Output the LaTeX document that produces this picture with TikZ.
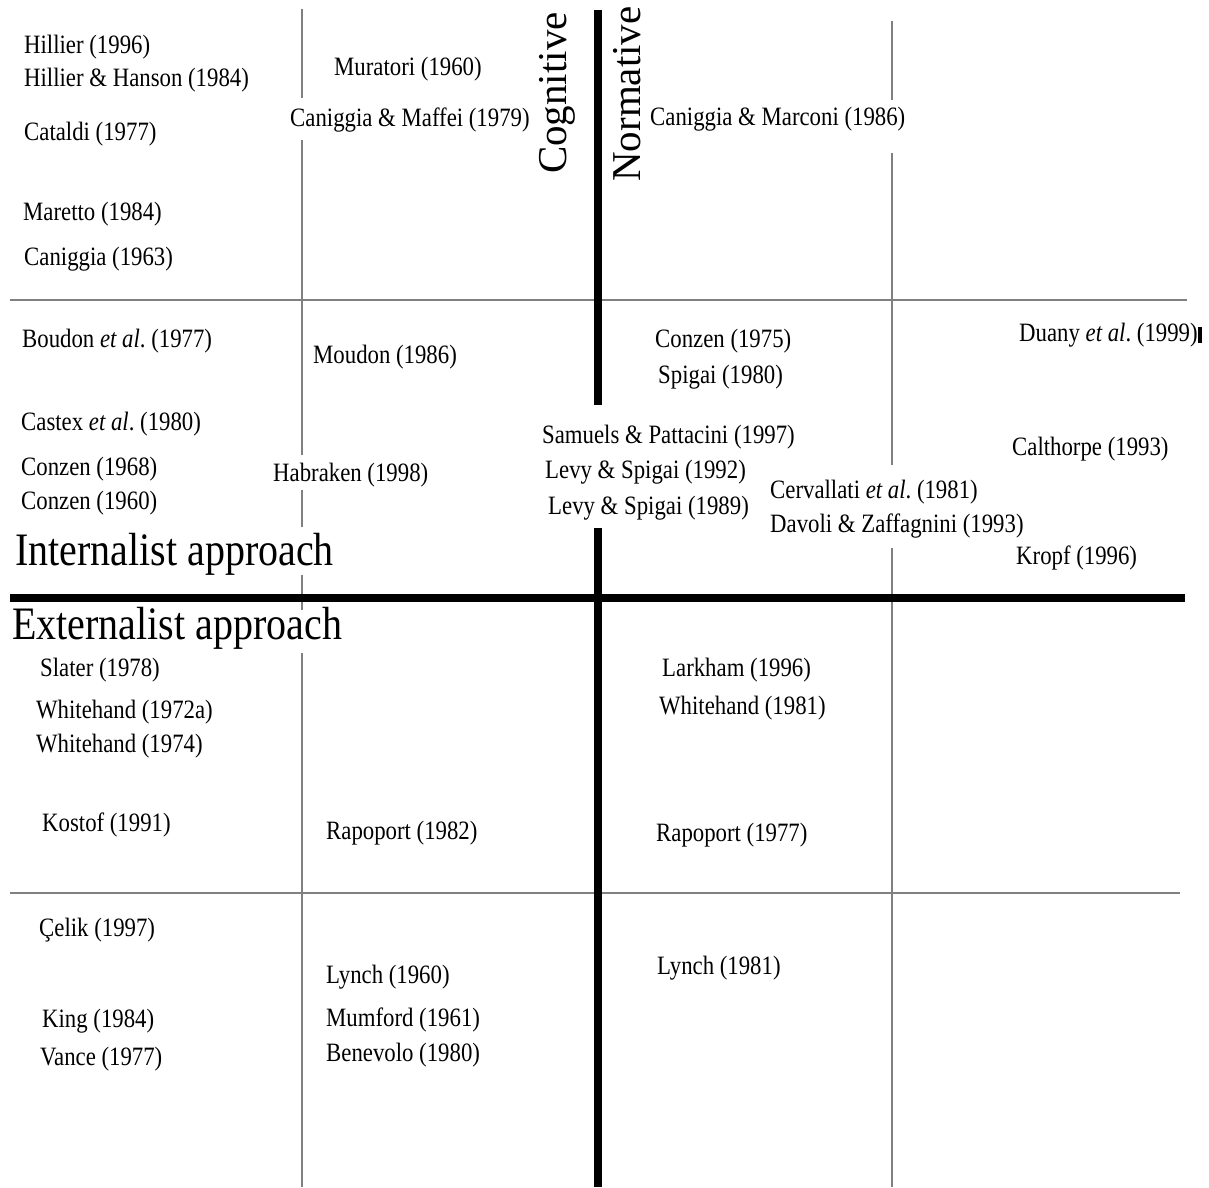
\documentclass[tikz,border=0pt]{standalone}
\usepackage{fontspec}
\setmainfont[FakeStretch=0.86]{Liberation Serif}
\newfontfamily\axisfont{Liberation Serif}
\usetikzlibrary{positioning}
\tikzset{
ref/.style={
  anchor=west,
  inner sep=0pt,
  yshift=-2pt,
  font=\fontsize{26.5}{30}\selectfont
  },
approach/.style={
  anchor=west,
  inner sep=0pt,
  font=\fontsize{46.5}{50}\selectfont
  },
axislabel/.style={
  rotate=90,
  inner sep=0pt,
  font=\axisfont\fontsize{41}{45}\selectfont
  },
thickline/.style={line width=7.5pt,black},
thinline/.style={line width=1.3pt,black!50}
}

\begin{document}
\begin{tikzpicture}[x=1pt,y=-1pt]
\useasboundingbox (0,0) rectangle (1209,1187);
% thin dividers
\draw[thinline] (302,9) -- (302,98) (302,140) -- (302,455) (302,490) -- (302,527)
  (302,575) -- (302,610) (302,653) -- (302,1187);
\draw[thinline] (892,21) -- (892,100) (892,153) -- (892,465) (892,548) -- (892,1187);
\draw[thinline] (10,300) -- (1187,300);
\draw[thinline] (10,893) -- (1180,893);
% main axes
\draw[thickline] (10,598) -- (1185,598);
\draw[thickline] (598,10) -- (598,405) (598,528) -- (598,1187);
\node[axislabel] (cog) at (557,93) {Cognitive};
\node[axislabel] (norm) at (627,94) {Normative};
\node[approach] (int) at (15,554) {Internalist approach};
\node[approach] (ext) at (12,628) {Externalist approach};
% internalist, cognitive
\node[ref] (hil96) at (24,45) {Hillier (1996)};
\node[ref] (hilhan84) at (24,78) {Hillier \& Hanson (1984)};
\node[ref] (cat77) at (24,132) {Cataldi (1977)};
\node[ref] (mar84) at (23,212) {Maretto (1984)};
\node[ref] (can63) at (24,257) {Caniggia (1963)};
\node[ref] (mur60) at (334,67) {Muratori (1960)};
\node[ref] (canmaf79) at (290,118) {Caniggia \& Maffei (1979)};
\node[ref] (bou77) at (22,339) {Boudon \textit{et al}.\ (1977)};
\node[ref] (cas80) at (21,422) {Castex \textit{et al}.\ (1980)};
\node[ref] (con68) at (21,467) {Conzen (1968)};
\node[ref] (con60) at (21,501) {Conzen (1960)};
\node[ref] (mou86) at (313,355) {Moudon (1986)};
\node[ref] (hab98) at (273,473) {Habraken (1998)};
% internalist, normative
\node[ref] (canmar86) at (650,117) {Caniggia \& Marconi (1986)};
\node[ref] (con75) at (655,339) {Conzen (1975)};
\node[ref] (spi80) at (658,375) {Spigai (1980)};
\node[ref] (sampat97) at (542,435) {Samuels \& Pattacini (1997)};
\node[ref] (levspi92) at (545,470) {Levy \& Spigai (1992)};
\node[ref] (levspi89) at (548,506) {Levy \& Spigai (1989)};
\node[ref] (cer81) at (770,490) {Cervallati \textit{et al}.\ (1981)};
\node[ref] (davzaf93) at (770,524) {Davoli \& Zaffagnini (1993)};
\node[ref] (dua99) at (1019,333) {Duany \textit{et al}.\ (1999)};
\fill (1198,327) rectangle (1202,343);
\node[ref] (cal93) at (1012,447) {Calthorpe (1993)};
\node[ref] (kro96) at (1016,556) {Kropf (1996)};
% externalist, cognitive
\node[ref] (sla78) at (40,668) {Slater (1978)};
\node[ref] (whi72) at (36,710) {Whitehand (1972a)};
\node[ref] (whi74) at (36,744) {Whitehand (1974)};
\node[ref] (kos91) at (42,823) {Kostof (1991)};
\node[ref] (rap82) at (326,831) {Rapoport (1982)};
\node[ref] (cel97) at (39,928) {Çelik (1997)};
\node[ref] (kin84) at (42,1019) {King (1984)};
\node[ref] (van77) at (40,1057) {Vance (1977)};
\node[ref] (lyn60) at (326,975) {Lynch (1960)};
\node[ref] (mum61) at (326,1018) {Mumford (1961)};
\node[ref] (ben80) at (326,1053) {Benevolo (1980)};
% externalist, normative
\node[ref] (lar96) at (662,668) {Larkham (1996)};
\node[ref] (whi81) at (659,706) {Whitehand (1981)};
\node[ref] (rap77) at (656,833) {Rapoport (1977)};
\node[ref] (lyn81) at (657,966) {Lynch (1981)};
\end{tikzpicture}
\end{document}
